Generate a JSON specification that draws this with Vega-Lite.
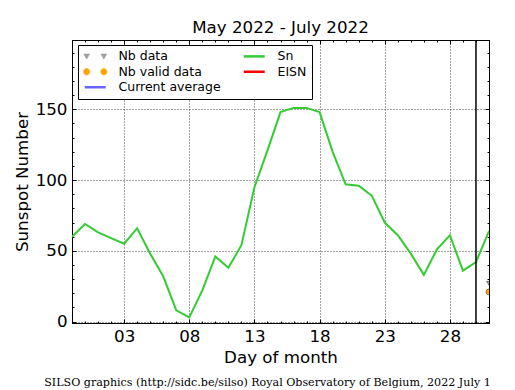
{
  "$schema": "https://vega.github.io/schema/vega-lite/v6.json",
  "width": 417,
  "height": 283,
  "autosize": {"type": "none"},
  "padding": {"left": 72, "top": 40, "right": 26, "bottom": 67},
  "background": "white",
  "title": {"text": "May 2022 - July 2022", "font": "DejaVu Sans", "fontSize": 16.7, "fontWeight": "normal", "color": "black", "anchor": "middle", "offset": 3},
  "config": {
    "font": "DejaVu Sans",
    "view": {"stroke": "black", "strokeWidth": 1},
    "axis": {
      "domainColor": "black", "domainWidth": 1, "tickColor": "black", "tickWidth": 1,
      "labelColor": "black", "titleColor": "black",
      "labelFont": "DejaVu Sans", "labelFontSize": 16.7,
      "titleFont": "DejaVu Sans", "titleFontSize": 16.7, "titleFontWeight": "normal",
      "gridColor": "black", "gridDash": [1, 2], "gridWidth": 0.8, "gridOpacity": 0.9,
      "labelFlush": false
    }
  },
  "datasets": {
    "sn": [
      {"day": -1, "value": 60, "series": "Sn"},
      {"day": 0, "value": 69, "series": "Sn"},
      {"day": 1, "value": 63, "series": "Sn"},
      {"day": 2, "value": 59, "series": "Sn"},
      {"day": 3, "value": 55, "series": "Sn"},
      {"day": 4, "value": 66, "series": "Sn"},
      {"day": 5, "value": 48, "series": "Sn"},
      {"day": 6, "value": 32, "series": "Sn"},
      {"day": 7, "value": 8, "series": "Sn"},
      {"day": 8, "value": 3, "series": "Sn"},
      {"day": 9, "value": 22, "series": "Sn"},
      {"day": 10, "value": 46, "series": "Sn"},
      {"day": 11, "value": 38, "series": "Sn"},
      {"day": 12, "value": 54, "series": "Sn"},
      {"day": 13, "value": 95, "series": "Sn"},
      {"day": 14, "value": 121, "series": "Sn"},
      {"day": 15, "value": 148, "series": "Sn"},
      {"day": 16, "value": 151, "series": "Sn"},
      {"day": 17, "value": 151, "series": "Sn"},
      {"day": 18, "value": 148, "series": "Sn"},
      {"day": 19, "value": 120, "series": "Sn"},
      {"day": 20, "value": 97, "series": "Sn"},
      {"day": 21, "value": 96, "series": "Sn"},
      {"day": 22, "value": 89, "series": "Sn"},
      {"day": 23, "value": 70, "series": "Sn"},
      {"day": 24, "value": 61, "series": "Sn"},
      {"day": 25, "value": 48, "series": "Sn"},
      {"day": 26, "value": 33, "series": "Sn"},
      {"day": 27, "value": 51, "series": "Sn"},
      {"day": 28, "value": 61, "series": "Sn"},
      {"day": 29, "value": 36, "series": "Sn"},
      {"day": 30, "value": 42, "series": "Sn"},
      {"day": 31, "value": 64, "series": "Sn"}
    ],
    "nbvalid": [{"day": 31, "value": 21}],
    "nbdata": [{"day": 31, "value": 27}],
    "current": [{"day": 30}]
  },
  "layer": [
    {
      "data": {"name": "sn"},
      "mark": {"type": "line", "strokeWidth": 2, "clip": true},
      "encoding": {
        "x": {
          "field": "day", "type": "quantitative",
          "scale": {"domain": [-1, 31], "nice": false, "zero": false},
          "axis": {"orient": "bottom", "values": [3, 8, 13, 18, 23, 28], "labelExpr": "format(datum.value, '02d')", "tickSize": -4, "labelPadding": 9, "grid": true, "title": "Day of month", "titlePadding": 5}
        },
        "y": {
          "field": "value", "type": "quantitative",
          "scale": {"domain": [-1, 199], "nice": false, "zero": false},
          "axis": {"orient": "left", "values": [0, 50, 100, 150], "tickSize": -4, "labelPadding": 9, "grid": true, "title": "Sunspot Number", "titlePadding": 4}
        },
        "color": {
          "field": "series", "type": "nominal",
          "scale": {"domain": ["Nb data", "Nb valid data", "Current average", "Sn", "EISN"], "range": ["#999999", "#ffa500", "#6666ff", "#33cc33", "#ff0000"]},
          "legend": {
            "orient": "none", "legendX": 6, "legendY": 5,
            "columns": 2, "columnPadding": 17, "rowPadding": 2.5,
            "padding": 5, "strokeColor": "black", "fillColor": "white", "cornerRadius": 0,
            "title": null,
            "labelFont": "DejaVu Sans", "labelFontSize": 12.5, "labelColor": "black",
            "symbolSize": 440, "labelOffset": 17, "symbolOffset": 6,
            "encode": {
              "symbols": {
                "update": {
                  "shape": {"signal": "datum.value == 'Nb data' ? 'M-1.09,-0.22L-0.55,-0.22L-0.82,0.26ZM0.55,-0.22L1.09,-0.22L0.82,0.26Z' : datum.value == 'Nb valid data' ? 'M-1.12,0A0.3,0.3,0,1,0,-0.52,0A0.3,0.3,0,1,0,-1.12,0ZM0.52,0A0.3,0.3,0,1,0,1.12,0A0.3,0.3,0,1,0,0.52,0Z' : 'stroke'"},
                  "fill": {"signal": "datum.value == 'Nb data' ? '#a0a0a0' : datum.value == 'Nb valid data' ? '#ffa500' : 'transparent'"},
                  "stroke": {"signal": "datum.value == 'Nb data' || datum.value == 'Nb valid data' ? '#444444' : datum.value == 'Sn' ? '#33cc33' : datum.value == 'EISN' ? '#ff0000' : '#6666ff'"},
                  "strokeWidth": {"signal": "datum.value == 'Nb data' || datum.value == 'Nb valid data' ? 0.6 : 2.5"},
                  "opacity": {"value": 1}
                }
              }
            }
          }
        }
      }
    },
    {
      "data": {"name": "nbvalid"},
      "mark": {"type": "point", "shape": "circle", "filled": true, "fill": "#ffa500", "stroke": "#6b4800", "strokeWidth": 0.6, "size": 36, "opacity": 1, "clip": true},
      "encoding": {
        "x": {
          "field": "day", "type": "quantitative",
          "scale": {"domain": [-1, 31], "nice": false, "zero": false},
          "axis": {"orient": "top", "values": [3, 8, 13, 18, 23, 28], "tickSize": -4, "labels": false, "grid": false, "title": null}
        },
        "y": {
          "field": "value", "type": "quantitative",
          "scale": {"domain": [-1, 199], "nice": false, "zero": false},
          "axis": {"orient": "right", "values": [0, 50, 100, 150], "tickSize": -4, "labels": false, "grid": false, "title": null}
        }
      }
    },
    {
      "data": {"name": "nbdata"},
      "mark": {"type": "point", "shape": "triangle-down", "filled": true, "fill": "#a0a0a0", "stroke": "#444444", "strokeWidth": 0.6, "size": 22, "opacity": 1, "clip": true},
      "encoding": {
        "x": {
          "field": "day", "type": "quantitative",
          "scale": {"domain": [-1, 31], "nice": false, "zero": false},
          "axis": {"orient": "bottom", "values": [-1, 0, 1, 2, 3, 4, 5, 6, 7, 8, 9, 10, 11, 12, 13, 14, 15, 16, 17, 18, 19, 20, 21, 22, 23, 24, 25, 26, 27, 28, 29, 30, 31], "tickSize": -2, "labels": false, "grid": false, "domain": false,
            "title": "SILSO graphics (http://sidc.be/silso) Royal Observatory of Belgium, 2022 July 1",
            "titleFont": "DejaVu Serif", "titleFontSize": 11.1, "titleFontWeight": "normal", "titleX": 195, "titleY": 62, "titleBaseline": "alphabetic", "titleAlign": "center"}
        },
        "y": {
          "field": "value", "type": "quantitative",
          "scale": {"domain": [-1, 199], "nice": false, "zero": false},
          "axis": {"orient": "left", "values": [0, 10, 20, 30, 40, 50, 60, 70, 80, 90, 100, 110, 120, 130, 140, 150, 160, 170, 180, 190], "tickSize": -2, "labels": false, "grid": false, "domain": false, "title": null}
        }
      }
    },
    {
      "data": {"name": "current"},
      "mark": {"type": "rule", "color": "black", "strokeWidth": 1.5},
      "encoding": {
        "x": {
          "field": "day", "type": "quantitative",
          "scale": {"domain": [-1, 31], "nice": false, "zero": false},
          "axis": {"orient": "top", "values": [-1, 0, 1, 2, 3, 4, 5, 6, 7, 8, 9, 10, 11, 12, 13, 14, 15, 16, 17, 18, 19, 20, 21, 22, 23, 24, 25, 26, 27, 28, 29, 30, 31], "tickSize": -2, "labels": false, "grid": false, "domain": false, "title": null}
        },
        "y": {
          "datum": -1, "type": "quantitative",
          "scale": {"domain": [-1, 199], "nice": false, "zero": false},
          "axis": {"orient": "right", "values": [0, 10, 20, 30, 40, 50, 60, 70, 80, 90, 100, 110, 120, 130, 140, 150, 160, 170, 180, 190], "tickSize": -2, "labels": false, "grid": false, "domain": false, "title": null}
        },
        "y2": {"datum": 199}
      }
    }
  ],
  "resolve": {"axis": {"x": "independent", "y": "independent"}}
}
